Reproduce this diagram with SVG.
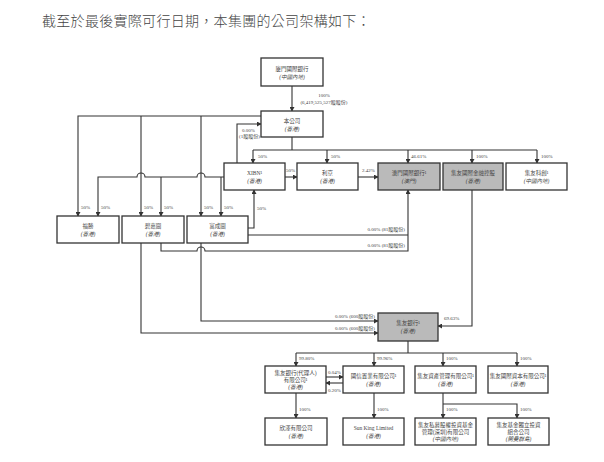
<svg xmlns="http://www.w3.org/2000/svg" width="604" height="462" viewBox="0 0 604 462">
<defs>
<marker id="ar" markerWidth="5" markerHeight="5" refX="4" refY="2.5" orient="auto" markerUnits="userSpaceOnUse">
<path d="M0,0 L4.5,2.5 L0,5 Z" fill="#333"/>
</marker>
<style>
.b{fill:#fff;stroke:#333;stroke-width:1.3}
.g{fill:#bababa;stroke:#333;stroke-width:1.3}
.t{font-family:"Liberation Serif","Noto Sans CJK TC",serif;font-size:5.5px;fill:#444;text-anchor:middle}
.i{font-style:italic}
.l{font-family:"Liberation Serif","Noto Sans CJK TC",serif;font-size:5px;fill:#444}
.r{text-anchor:end}
.c{fill:none;stroke:#333;stroke-width:1.1}
.a{marker-end:url(#ar)}
</style>
</defs>
<rect width="604" height="462" fill="#fff"/>
<text x="42" y="26" style="font-family:'Noto Sans CJK TC',sans-serif;font-size:14px;font-weight:300;fill:#444;letter-spacing:0.3px">截至於最後實際可行日期，本集團的公司架構如下：</text>

<g id="connectors">
<path class="c a" d="M292,86 V111"/>
<path class="c" d="M292,137 V150 M253,150 H537"/>
<path class="c a" d="M253,150 V163"/>
<path class="c a" d="M327,150 V163"/>
<path class="c a" d="M408,150 V163"/>
<path class="c a" d="M472,150 V163"/>
<path class="c a" d="M537,150 V163"/>
<path class="c a" d="M237,163 V124 H261"/>
<path class="c a" d="M261,116 H78 V216"/>
<path class="c a" d="M141,116 V216"/>
<path class="c a" d="M201,116 V216"/>
<path class="c a" d="M224,177 H205 a4,4 0 0 0 -8,0 H145 a4,4 0 0 0 -8,0 H98 V216"/>
<path class="c a" d="M161,177 V216"/>
<path class="c a" d="M221,177 V216"/>
<path class="c a" d="M285,177 H297"/>
<path class="c a" d="M358,177 H378"/>
<path class="c a" d="M248,228 H254 V190"/>
<path class="c" d="M248,235 H408"/>
<path class="c a" d="M161,243 V251 H197 a4,4 0 0 1 8,0 H408 V190"/>
<path class="c a" d="M141,243 V333 H378"/>
<path class="c a" d="M201,243 V321 H378"/>
<path class="c a" d="M472,190 V326 H438"/>
<path class="c" d="M408,341 V353 M296,353 H517"/>
<path class="c a" d="M296,353 V366"/>
<path class="c a" d="M374,353 V366"/>
<path class="c a" d="M443,353 V366"/>
<path class="c a" d="M517,353 V366"/>
<path class="c a" d="M326,377 H343"/>
<path class="c a" d="M343,383 H326"/>
<path class="c a" d="M296,393 V418"/>
<path class="c a" d="M374,393 V418"/>
<path class="c a" d="M443,393 V418"/>
<path class="c a" d="M443,404 H517 V418"/>
<g class="l">
<text x="324" y="97" text-anchor="middle">100%</text>
<text x="324" y="104" text-anchor="middle">(6,419,525,527股股份)</text>
<text x="258" y="158">50%</text>
<text x="331" y="158">50%</text>
<text x="411" y="158">46.61%</text>
<text x="476" y="158">100%</text>
<text x="541" y="158">100%</text>
<text x="242" y="132">0.00%</text>
<text x="239" y="138">(1股股份)</text>
<text x="81" y="209">50%</text>
<text x="101" y="209">50%</text>
<text x="144" y="209">50%</text>
<text x="164" y="209">50%</text>
<text x="204" y="209">50%</text>
<text x="224" y="209">50%</text>
<text x="257" y="210">50%</text>
<text x="286" y="172">50%</text>
<text x="362" y="172">2.42%</text>
<text x="405" y="231" class="r">0.00% (81股股份)</text>
<text x="405" y="247" class="r">0.00% (81股股份)</text>
<text x="375" y="318" class="r">0.00% (600股股份)</text>
<text x="375" y="330" class="r">0.00% (600股股份)</text>
<text x="444" y="320">69.63%</text>
<text x="299" y="360">99.80%</text>
<text x="377" y="360">99.96%</text>
<text x="446" y="360">100%</text>
<text x="520" y="360">100%</text>
<text x="328" y="374">0.04%</text>
<text x="328" y="392">0.20%</text>
<text x="299" y="411">100%</text>
<text x="377" y="411">100%</text>
<text x="446" y="411">100%</text>
<text x="520" y="411">100%</text>
</g>
</g>

<g id="n-xiamen"><rect class="b" x="261" y="58" width="62" height="28"/><text class="t" x="292" y="71">廈門國際銀行</text><text class="t i" x="292" y="79">(中國內地)</text></g>
<g id="n-company"><rect class="b" x="261" y="111" width="62" height="26"/><text class="t" x="292" y="123">本公司</text><text class="t i" x="292" y="131">(香港)</text></g>
<g id="n-xibn"><rect class="b" x="224" y="163" width="61" height="27"/><text class="t" x="254.5" y="175">XIBN¹</text><text class="t i" x="254.5" y="183">(香港)</text></g>
<g id="n-lijing"><rect class="b" x="297" y="163" width="61" height="27"/><text class="t" x="327.5" y="175">利京</text><text class="t i" x="327.5" y="183">(香港)</text></g>
<g id="n-macau"><rect class="g" x="378" y="163" width="62" height="27"/><text class="t" x="409" y="175">澳門國際銀行¹</text><text class="t i" x="409" y="183">(澳門)</text></g>
<g id="n-chiyuintl"><rect class="g" x="443" y="163" width="60" height="27"/><text class="t" x="473" y="175">集友國際金融控股</text><text class="t i" x="473" y="183">(香港)</text></g>
<g id="n-chiyutech"><rect class="b" x="506" y="163" width="61" height="27"/><text class="t" x="536.5" y="175">集友科創¹</text><text class="t i" x="536.5" y="183">(中國內地)</text></g>
<g id="n-fusheng"><rect class="b" x="57" y="216" width="62" height="27"/><text class="t" x="88" y="228">福勝</text><text class="t i" x="88" y="236">(香港)</text></g>
<g id="n-bijiatu"><rect class="b" x="122" y="216" width="62" height="27"/><text class="t" x="153" y="228">碧嘉圖</text><text class="t i" x="153" y="236">(香港)</text></g>
<g id="n-fuchengtu"><rect class="b" x="187" y="216" width="61" height="27"/><text class="t" x="217.5" y="228">富成圖</text><text class="t i" x="217.5" y="236">(香港)</text></g>
<g id="n-chiyubank"><rect class="g" x="378" y="313" width="60" height="28"/><text class="t" x="408" y="325">集友銀行¹</text><text class="t i" x="408" y="333">(香港)</text></g>
<g id="n-nominee"><rect class="b" x="265" y="366" width="61" height="27"/><text class="t" x="295.5" y="375">集友銀行(代理人)</text><text class="t" x="295.5" y="382">有限公司¹</text><text class="t i" x="295.5" y="389">(香港)</text></g>
<g id="n-guoxin"><rect class="b" x="343" y="366" width="61" height="27"/><text class="t" x="373.5" y="378">國信置業有限公司¹</text><text class="t i" x="373.5" y="386">(香港)</text></g>
<g id="n-asset"><rect class="b" x="415" y="366" width="61" height="27"/><text class="t" x="445.5" y="378">集友資產管理有限公司¹</text><text class="t i" x="445.5" y="386">(香港)</text></g>
<g id="n-capital"><rect class="b" x="488" y="366" width="60" height="27"/><text class="t" x="518" y="378">集友國際資本有限公司¹</text><text class="t i" x="518" y="386">(香港)</text></g>
<g id="n-xinze"><rect class="b" x="265" y="418" width="62" height="27"/><text class="t" x="296" y="430">欣澤有限公司</text><text class="t i" x="296" y="438">(香港)</text></g>
<g id="n-sunking"><rect class="b" x="343" y="418" width="61" height="27"/><text class="t" x="373.5" y="430">Sun King Limited</text><text class="t i" x="373.5" y="438">(香港)</text></g>
<g id="n-pe"><rect class="b" x="415" y="418" width="61" height="27"/><text class="t" x="445.5" y="427">集友私募股權投資基金</text><text class="t" x="445.5" y="434">管理(深圳)有限公司</text><text class="t i" x="445.5" y="441">(中國內地)</text></g>
<g id="n-fund"><rect class="b" x="488" y="418" width="61" height="27"/><text class="t" x="518.5" y="427">集友基金獨立投資</text><text class="t" x="518.5" y="434">組合公司</text><text class="t i" x="518.5" y="441">(開曼群島)</text></g>
</svg>
